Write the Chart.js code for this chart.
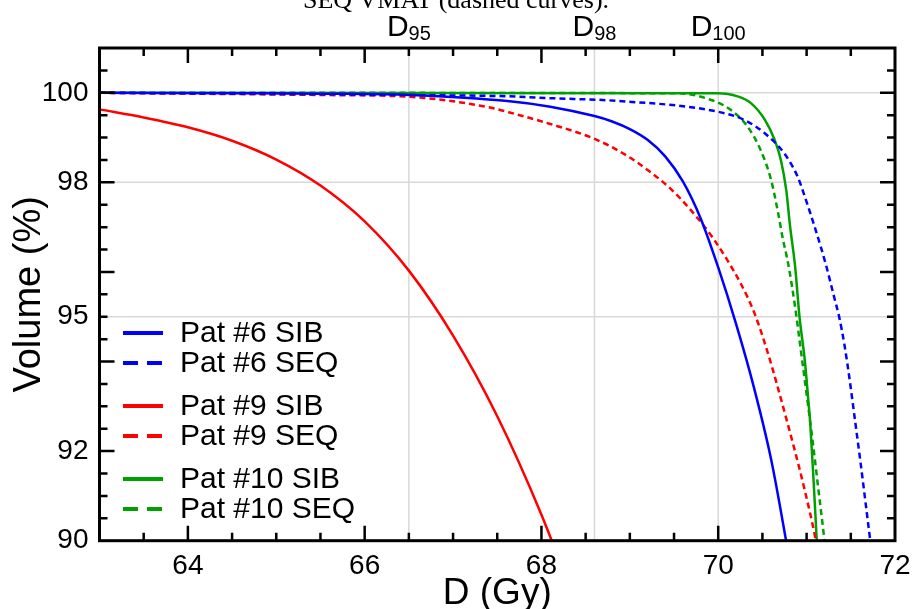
<!DOCTYPE html>
<html>
<head>
<meta charset="utf-8">
<script src="https://cdn.jsdelivr.net/npm/chart.js@4.4.0/dist/chart.umd.min.js"></script>
<style>
  html, body { margin: 0; padding: 0; background: #fff; }
  canvas { display: block; }
</style>
</head>
<body>
<canvas id="chart-dvh" width="912" height="609"></canvas>
<script>
/* -------------------------------------------------- */
/* Data (dose in Gy, volume in %)                      */
/* -------------------------------------------------- */

const P6_SIB_DOSE = [63.0, 64.7, 65.53, 66.51, 67.64, 68.10, 68.6, 68.8, 69.0, 69.2, 69.4, 69.6, 69.8, 70.0, 70.2, 70.4, 70.6, 70.8];
const P6_SIB_VOL  = [100.0, 99.99, 99.98, 99.95, 99.81, 99.69, 99.48, 99.36, 99.19, 98.95, 98.58, 98.02, 97.20, 96.10, 94.85, 93.45, 91.80, 89.65];

const P6_SEQ_DOSE = [63.0, 66.5, 67.64, 68.10, 68.85, 69.99, 70.30, 70.53, 70.75, 70.90, 70.98, 71.10, 71.22, 71.31, 71.37, 71.43, 71.49, 71.55, 71.61, 71.67, 71.72, 71.78];
const P6_SEQ_VOL  = [100.0, 99.95, 99.92, 99.88, 99.82, 99.58, 99.39, 99.09, 98.64, 98.12, 97.68, 96.95, 96.15, 95.45, 94.98, 94.35, 93.55, 92.65, 91.75, 90.80, 90.0, 89.0];

const P9_SIB_DOSE = [63.0, 63.5, 64.0, 64.5, 65.0, 65.5, 66.0, 66.5, 67.0, 67.5, 68.0, 68.5];
const P9_SIB_VOL  = [99.63, 99.45, 99.23, 98.93, 98.51, 97.93, 97.13, 96.03, 94.58, 92.78, 90.58, 88.0];

const P9_SEQ_DOSE = [63.0, 65.53, 66.51, 67.42, 67.64, 68.09, 68.59, 68.93, 69.24, 69.46, 69.69, 69.95, 70.26, 70.41, 70.56, 70.76, 70.97, 71.10, 71.16];
const P9_SEQ_VOL  = [100.0, 99.95, 99.91, 99.67, 99.56, 99.31, 98.98, 98.64, 98.22, 97.86, 97.38, 96.73, 95.72, 95.08, 94.20, 92.80, 91.20, 90.05, 89.4];

const P10_SIB_DOSE = [63.0, 69.99, 70.22, 70.37, 70.53, 70.64, 70.71, 70.77, 70.81, 70.87, 70.92, 70.98, 71.02, 71.04, 71.08, 71.115, 71.14];
const P10_SIB_VOL  = [100.0, 99.99, 99.92, 99.77, 99.39, 98.94, 98.49, 97.82, 97.07, 96.12, 94.99, 94.02, 93.12, 92.65, 91.30, 90.0, 89.0];

const P10_SEQ_DOSE = [63.0, 69.54, 69.92, 70.14, 70.33, 70.48, 70.60, 70.68, 70.73, 70.79, 70.87, 70.94, 71.01, 71.07, 71.13, 71.20, 71.24];
const P10_SEQ_VOL  = [100.0, 99.99, 99.84, 99.62, 99.25, 98.72, 98.04, 97.29, 96.75, 96.20, 95.22, 94.17, 93.12, 92.20, 91.20, 90.04, 89.3];

const SERIES_LABELS = ['Pat #6 SIB', 'Pat #6 SEQ', 'Pat #9 SIB', 'Pat #9 SEQ', 'Pat #10 SIB', 'Pat #10 SEQ'];

const X_TICKS = [64, 66, 68, 70, 72];
const Y_TICKS = [90, 92, 95, 98, 100];

// reference doses D95 / D98 / D100 and volume levels
const D_MARK_DOSE  = [66.5, 68.6, 70.0];
const D_MARK_SUB   = ['95', '98', '100'];
const V_MARK_LEVEL = [95, 98, 100];

const TITLE_TEXT = 'SEQ VMAT (dashed curves).';

/* -------------------------------------------------- */
/* Styling                                             */
/* -------------------------------------------------- */

const FONT = "'Liberation Sans', Arial, Helvetica, sans-serif";
const BLUE  = '#0000ff';
const RED   = '#ff0000';
const GREEN = '#00a000';
const DASH  = [6, 4];

function pts(xs, ys) {
  return xs.map((x, i) => ({ x, y: ys[i] }));
}

function line(label, xs, ys, color, dashed) {
  return {
    label,
    data: pts(xs, ys),
    borderColor: color,
    backgroundColor: color,
    borderWidth: 2.5,
    borderDash: dashed ? DASH : [],
    pointRadius: 0,
    cubicInterpolationMode: 'monotone',
    fill: false,
  };
}

/* -------------------------------------------------- */
/* Frame, ticks, grid, legend, labels                  */
/* -------------------------------------------------- */

const framePlugin = {
  id: 'framePlugin',
  beforeDatasetsDraw(chart) {
    const { ctx, chartArea: a, scales: { x, y } } = chart;
    ctx.save();
    ctx.strokeStyle = '#d8d8d8';
    ctx.lineWidth = 1.5;
    D_MARK_DOSE.forEach(v => {
      const px = x.getPixelForValue(v);
      ctx.beginPath(); ctx.moveTo(px, a.top); ctx.lineTo(px, a.bottom); ctx.stroke();
    });
    V_MARK_LEVEL.forEach(v => {
      const py = y.getPixelForValue(v);
      ctx.beginPath(); ctx.moveTo(a.left, py); ctx.lineTo(a.right, py); ctx.stroke();
    });
    ctx.restore();
  },
  afterDatasetsDraw(chart) {
    const { ctx, chartArea: a, scales: { x, y } } = chart;
    ctx.save();

    // inward ticks on all four sides
    ctx.strokeStyle = '#000';
    ctx.lineWidth = 2.5;
    for (let v = 63.5; v < 72; v += 0.5) {
      const len = Number.isInteger(v) && v % 2 === 0 ? 15 : 8;
      const px = x.getPixelForValue(v);
      ctx.beginPath();
      ctx.moveTo(px, a.bottom); ctx.lineTo(px, a.bottom - len);
      ctx.moveTo(px, a.top);    ctx.lineTo(px, a.top + len);
      ctx.stroke();
    }
    for (let v = 90.5; v < 101; v += 0.5) {
      const len = Number.isInteger(v) && v % 2 === 0 ? 15 : 8;
      const py = y.getPixelForValue(v);
      ctx.beginPath();
      ctx.moveTo(a.left, py);  ctx.lineTo(a.left + len, py);
      ctx.moveTo(a.right, py); ctx.lineTo(a.right - len, py);
      ctx.stroke();
    }

    // box
    ctx.lineWidth = 3;
    ctx.strokeRect(a.left, a.top, a.right - a.left, a.bottom - a.top);

    // D95 / D98 / D100 labels above the box
    ctx.fillStyle = '#000';
    ctx.textBaseline = 'alphabetic';
    ctx.textAlign = 'left';
    D_MARK_DOSE.forEach((v, i) => {
      const px = x.getPixelForValue(v);
      ctx.font = `30px ${FONT}`;
      const wD = ctx.measureText('D').width;
      ctx.font = `20px ${FONT}`;
      const wS = ctx.measureText(D_MARK_SUB[i]).width;
      const x0 = px - (wD + wS) / 2;
      ctx.font = `30px ${FONT}`;
      ctx.fillText('D', x0, 36);
      ctx.font = `20px ${FONT}`;
      ctx.fillText(D_MARK_SUB[i], x0 + wD, 40);
    });

    // cut-off caption at the very top
    ctx.font = "26px 'Liberation Serif', 'Times New Roman', serif";
    ctx.textAlign = 'center';
    ctx.fillText(TITLE_TEXT, 456, 8);

    // legend, drawn in three pairs
    ctx.textAlign = 'left';
    ctx.textBaseline = 'middle';
    ctx.font = `30px ${FONT}`;
    chart.data.datasets.forEach((ds, i) => {
      const rowY = 333 + Math.floor(i / 2) * 73 + (i % 2) * 30;
      ctx.strokeStyle = ds.borderColor;
      ctx.lineWidth = 4;
      ctx.setLineDash(ds.borderDash.length ? [15, 9] : []);
      ctx.beginPath(); ctx.moveTo(123, rowY); ctx.lineTo(163, rowY); ctx.stroke();
      ctx.setLineDash([]);
      ctx.fillStyle = '#000';
      ctx.fillText(ds.label, 180, rowY + 1);
    });

    ctx.restore();
  },
};

/* -------------------------------------------------- */
/* Chart                                               */
/* -------------------------------------------------- */

const ctx = document.getElementById('chart-dvh').getContext('2d');
new Chart(ctx, {
  type: 'line',
  data: {
    datasets: [
      line(SERIES_LABELS[0], P6_SIB_DOSE,  P6_SIB_VOL,  BLUE,  false),
      line(SERIES_LABELS[1], P6_SEQ_DOSE,  P6_SEQ_VOL,  BLUE,  true),
      line(SERIES_LABELS[2], P9_SIB_DOSE,  P9_SIB_VOL,  RED,   false),
      line(SERIES_LABELS[3], P9_SEQ_DOSE,  P9_SEQ_VOL,  RED,   true),
      line(SERIES_LABELS[4], P10_SIB_DOSE, P10_SIB_VOL, GREEN, false),
      line(SERIES_LABELS[5], P10_SEQ_DOSE, P10_SEQ_VOL, GREEN, true),
    ],
  },
  options: {
    responsive: false,
    animation: false,
    devicePixelRatio: 1,
    layout: { padding: { top: 48, right: 17, left: 0, bottom: 0 } },
    plugins: {
      legend: { display: false },
      tooltip: { enabled: false },
    },
    scales: {
      x: {
        type: 'linear',
        min: 63,
        max: 72,
        grid: { display: false, drawTicks: false },
        border: { display: false },
        afterBuildTicks: s => { s.ticks = X_TICKS.map(v => ({ value: v })); },
        afterFit: s => { s.height = 68.3; s.paddingLeft = 0; s.paddingRight = 0; },
        ticks: {
          autoSkip: false,
          maxRotation: 0,
          padding: 9,
          color: '#000',
          font: { family: FONT, size: 28 },
        },
        title: {
          display: true,
          text: 'D (Gy)',
          color: '#000',
          font: { family: FONT, size: 37, lineHeight: 1 },
          padding: { top: 0, bottom: -3 },
        },
      },
      y: {
        type: 'linear',
        min: 90,
        max: 101,
        grid: { display: false, drawTicks: false },
        border: { display: false },
        afterBuildTicks: s => { s.ticks = Y_TICKS.map(v => ({ value: v })); },
        afterFit: s => { s.width = 99.5; s.paddingTop = 0; s.paddingBottom = 0; },
        ticks: {
          autoSkip: false,
          padding: 11,
          color: '#000',
          font: { family: FONT, size: 28 },
        },
        title: {
          display: true,
          text: 'Volume (%)',
          color: '#000',
          font: { family: FONT, size: 38, lineHeight: 1 },
          padding: { top: 11, bottom: 0 },
        },
      },
    },
  },
  plugins: [framePlugin],
});
</script>
</body>
</html>
